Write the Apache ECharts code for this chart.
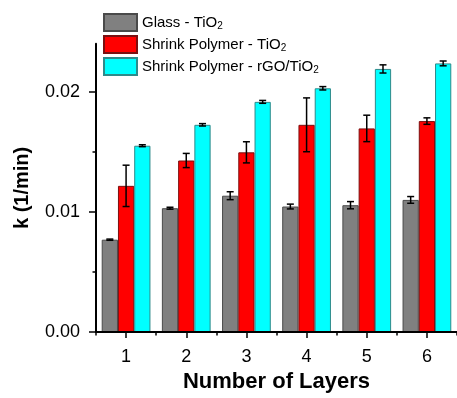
<!DOCTYPE html>
<html><head><meta charset="utf-8">
<script src="https://cdn.jsdelivr.net/npm/echarts@6/dist/echarts.min.js"></script>
<style>html,body{margin:0;padding:0;background:#fff}#c{width:457px;height:398px}</style>
</head><body><div id="c"></div>
<script>
const categories = ['1', '2', '3', '4', '5', '6'];
const seriesNames = ['Glass - TiO2', 'Shrink Polymer - TiO2', 'Shrink Polymer - rGO/TiO2'];
const glassTiO2 = [0.00769, 0.01031, 0.01135, 0.01045, 0.01056, 0.0110];
const glassErr = [0.00005, 0.00008, 0.00033, 0.0002, 0.0003, 0.00028];
const shrinkTiO2 = [0.01217, 0.01428, 0.01496, 0.01725, 0.01695, 0.01756];
const shrinkErr = [0.00172, 0.00059, 0.00088, 0.00224, 0.0011, 0.00027];
const shrinkRGO = [0.01551, 0.01725, 0.01916, 0.02029, 0.0219, 0.02236];
const rgoErr = [0.00008, 0.0001, 0.00012, 0.00014, 0.00034, 0.0002];
const yTicks = [0, 0.01, 0.02];
const yMinorTicks = [0.005, 0.015];

const FONT = "'Liberation Sans', Arial, sans-serif";
const BAR_FRAC = 0.27;
const values = [glassTiO2, shrinkTiO2, shrinkRGO];
const errs = [glassErr, shrinkErr, rgoErr];
const fills = ['#808080', '#ff0000', '#00ffff'];
const borders = ['#4a4a4a', '#7a1010', '#2e8a8a'];

function errRender(idx) {
  return function (params, api) {
    const x = api.value(0), v = api.value(1), e = api.value(2);
    const band = api.size([1, 0])[0];
    const off = (idx - 1) * band * BAR_FRAC;
    const hi = api.coord([x, v + e]);
    const lo = api.coord([x, v - e]);
    const cx = hi[0] + off, cw = 3.5;
    const st = { stroke: '#000', lineWidth: 1.5 };
    return { type: 'group', children: [
      { type: 'line', shape: { x1: cx, y1: hi[1], x2: cx, y2: lo[1] }, style: st },
      { type: 'line', shape: { x1: cx - cw, y1: hi[1], x2: cx + cw, y2: hi[1] }, style: st },
      { type: 'line', shape: { x1: cx - cw, y1: lo[1], x2: cx + cw, y2: lo[1] }, style: st }
    ]};
  };
}

const series = [];
for (let i = 0; i < 3; i++) {
  series.push({
    name: seriesNames[i], type: 'bar', xAxisIndex: 0, yAxisIndex: 0,
    data: values[i], barWidth: (BAR_FRAC * 100) + '%', barGap: '0%',
    itemStyle: { color: fills[i], borderColor: borders[i], borderWidth: 1 },
    z: 2
  });
}
for (let i = 0; i < 3; i++) {
  series.push({
    type: 'custom', xAxisIndex: 0, yAxisIndex: 0,
    renderItem: errRender(i),
    data: values[i].map((v, j) => [j, v, errs[i][j]]),
    encode: { x: 0, y: 1 }, z: 5, silent: true
  });
}

const chart = echarts.init(document.getElementById('c'), null, { renderer: 'canvas' });
chart.setOption({
  animation: false,
  backgroundColor: '#fff',
  textStyle: { fontFamily: FONT },
  grid: { left: 96, top: 43.7, width: 362, height: 292.8, containLabel: false },
  legend: {
    orient: 'vertical', left: 98, top: 8, padding: 5, itemWidth: 33, itemHeight: 17, itemGap: 3,
    icon: 'rect', data: seriesNames,
    formatter: n => '{a|' + n.replace('TiO2', 'TiO}{sub|2}') + (n.endsWith('TiO2') ? '' : '}'),
    textStyle: {
      color: '#000', fontFamily: FONT,
      rich: {
        a: { fontSize: 15, lineHeight: 18, fontFamily: FONT, color: '#000' },
        sub: { fontSize: 10, lineHeight: 18, fontFamily: FONT, color: '#000', padding: [7, 0, 0, 0] }
      }
    }
  },
  xAxis: [{
    type: 'category', data: categories, position: 'bottom', z: 10,
    axisLine: { show: true, lineStyle: { color: '#000', width: 2 } },
    axisTick: { show: true, alignWithLabel: true, length: 6, lineStyle: { color: '#000', width: 1.5 } },
    axisLabel: { fontSize: 18, color: '#000', margin: 16, fontFamily: FONT },
    name: 'Number of Layers', nameLocation: 'middle', nameGap: 38,
    nameTextStyle: { fontSize: 22, fontWeight: 'bold', color: '#000', fontFamily: FONT },
    splitLine: { show: false }
  }, {
    type: 'category', data: categories, position: 'bottom', z: 10,
    axisLine: { show: false },
    axisTick: { show: true, alignWithLabel: false, length: 3.5, lineStyle: { color: '#000', width: 1.5 } },
    axisLabel: { show: false }, splitLine: { show: false }
  }],
  yAxis: [{
    type: 'value', min: 0, max: 0.024, interval: 0.01, position: 'left', z: 10,
    axisLine: { show: true, lineStyle: { color: '#000', width: 2 } },
    axisTick: { show: true, customValues: yTicks, length: 7, lineStyle: { color: '#000', width: 1.5 } },
    axisLabel: { customValues: yTicks, fontSize: 18, color: '#000', margin: 16, fontFamily: FONT,
      formatter: v => v.toFixed(2) },
    splitLine: { show: false },
    name: 'k (1/min)', nameLocation: 'middle', nameGap: 64, nameRotate: 90,
    nameTextStyle: { fontSize: 20, fontWeight: 'bold', color: '#000', fontFamily: FONT }
  }, {
    type: 'value', min: 0, max: 0.024, interval: 0.01, position: 'left', z: 10,
    axisLine: { show: false },
    axisTick: { show: true, customValues: yMinorTicks, length: 3.5, lineStyle: { color: '#000', width: 1.5 } },
    axisLabel: { show: false }, splitLine: { show: false }
  }],
  series: series
});
</script>
</body></html>
